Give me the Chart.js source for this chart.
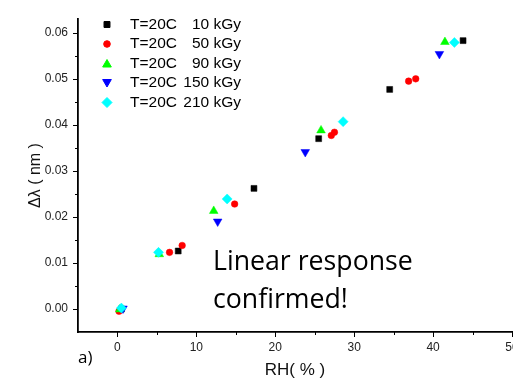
<!DOCTYPE html>
<html>
<head>
<meta charset="utf-8">
<script src="https://cdn.jsdelivr.net/npm/chart.js@4/dist/chart.umd.min.js"></script>
<style>
html, body { margin: 0; padding: 0; background: #fff; overflow: hidden; }
#wrap { position: relative; width: 530px; height: 383px; }
</style>
</head>
<body>
<div id="wrap"><canvas id="rhChart" width="530" height="383"></canvas></div>
<script>
// RH (%) vs wavelength shift (nm), one series per dose
const rh10 = [0.5, 7.7, 17.3, 25.5, 34.5, 43.8];
const dl10 = [0.0000, 0.0126, 0.0262, 0.0370, 0.0477, 0.0583];
const rh50 = [0.2, 6.6, 8.2, 14.85, 27.1, 27.5, 36.9, 37.8];
const dl50 = [-0.0005, 0.0123, 0.0138, 0.0228, 0.0377, 0.0384, 0.0495, 0.0500];
const rh90 = [0.3, 5.3, 12.2, 25.8, 41.5];
const dl90 = [-0.0001, 0.0119, 0.0213, 0.0388, 0.0580];
const rh150 = [0.7, 12.7, 23.8, 40.8];
const dl150 = [0.0001, 0.0190, 0.0341, 0.0554];
const rh210 = [0.5, 5.2, 13.9, 28.6, 42.7];
const dl210 = [0.0002, 0.0123, 0.0239, 0.0407, 0.0579];

const tempLabel = 'T=20C';
const doseLabels = ['10 kGy', '50 kGy', '90 kGy', '150 kGy', '210 kGy'];
const xMajor = [0, 10, 20, 30, 40, 50];
const xMinor = [5, 15, 25, 35, 45];
const yMajor = [0, 0.01, 0.02, 0.03, 0.04, 0.05, 0.06];
const yMinor = [0.005, 0.015, 0.025, 0.035, 0.045, 0.055];

const styles = [
    { color: '#000000', pointStyle: 'rect', radius: 4.2, rotation: 0 },
    { color: '#ff0000', pointStyle: 'circle', radius: 3.3, rotation: 0 },
    { color: '#00ff00', pointStyle: 'triangle', radius: 5, rotation: 0 },
    { color: '#0000ff', pointStyle: 'triangle', radius: 5, rotation: 180 },
    { color: '#00ffff', pointStyle: 'rectRot', radius: 5, rotation: 0 }
];

const xs = [rh10, rh50, rh90, rh150, rh210];
const ys = [dl10, dl50, dl90, dl150, dl210];

const datasets = doseLabels.map(function (dose, i) {
    return {
        label: tempLabel + ' ' + dose,
        data: xs[i].map(function (x, j) { return { x: x, y: ys[i][j] }; }),
        backgroundColor: styles[i].color,
        borderColor: styles[i].color,
        borderWidth: 0.5,
        pointStyle: styles[i].pointStyle,
        pointRadius: styles[i].radius,
        pointRotation: styles[i].rotation,
        order: 5 - i
    };
});

const fontFamily = '"Liberation Sans", Arial, sans-serif';

// tick marks pointing outwards, major and minor
const tickMarks = {
    id: 'tickMarks',
    afterDraw(chart) {
        const c = chart.ctx;
        const xs = chart.scales.x, ys = chart.scales.y;
        const area = chart.chartArea;
        c.save();
        c.strokeStyle = '#000';
        c.lineWidth = 1;
        xMajor.concat(xMinor).forEach(function (v) {
            const len = xMajor.indexOf(v) >= 0 ? 5 : 3;
            const px = Math.round(xs.getPixelForValue(v)) + 0.5;
            c.beginPath(); c.moveTo(px, area.bottom); c.lineTo(px, area.bottom + len); c.stroke();
        });
        yMajor.concat(yMinor).forEach(function (v) {
            const len = yMajor.indexOf(v) >= 0 ? 5 : 3;
            const py = Math.round(ys.getPixelForValue(v)) + 0.5;
            c.beginPath(); c.moveTo(area.left, py); c.lineTo(area.left - len, py); c.stroke();
        });
        c.restore();
    }
};

// legend inside the plot, top left
const insideLegend = {
    id: 'insideLegend',
    afterDraw(chart) {
        const c = chart.ctx;
        c.save();
        c.font = '15.5px ' + fontFamily;
        c.textBaseline = 'middle';
        doseLabels.forEach(function (dose, i) {
            const y = 24.5 + i * 19.5;
            const st = styles[i];
            c.fillStyle = st.color;
            c.strokeStyle = st.color;
            Chart.helpers.drawPoint(c, {
                pointStyle: st.pointStyle,
                radius: st.radius,
                rotation: st.rotation,
                borderWidth: 0.5
            }, 107, st.pointStyle === 'triangle' ? y + (st.rotation ? -1 : 1) : y);
            c.fillStyle = '#000';
            c.textAlign = 'left';
            c.fillText(tempLabel, 130, y);
            c.textAlign = 'right';
            c.fillText(dose, 241, y);
        });
        c.restore();
    }
};

// annotation text
const notes = {
    id: 'notes',
    afterDraw(chart) {
        const c = chart.ctx;
        c.save();
        c.fillStyle = '#000';
        c.textAlign = 'left';
        c.textBaseline = 'alphabetic';
        c.font = '28px "Open Sans", sans-serif';
        const w = c.measureText('Linear response').width;
        const size = 28 * 200 / w;
        c.font = size.toFixed(1) + 'px "Open Sans", sans-serif';
        c.fillText('Linear response', 213, 270);
        c.fillText('confirmed!', 213, 307.5);
        c.font = '17px "Open Sans", sans-serif';
        c.fillText('a)', 78, 363);
        c.restore();
    }
};

const ctx = document.getElementById('rhChart').getContext('2d');
const rhChart = new Chart(ctx, {
    type: 'scatter',
    data: { datasets: datasets },
    options: {
        responsive: false,
        animation: false,
        layout: { padding: { top: 19, right: 18, left: 0, bottom: 0 } },
        plugins: {
            legend: { display: false },
            tooltip: { enabled: false }
        },
        scales: {
            x: {
                type: 'linear',
                min: -5,
                max: 50,
                afterBuildTicks: function (s) { s.ticks = xMajor.map(function (v) { return { value: v }; }); },
                afterFit: function (s) { s.height = 51; },
                grid: { display: false, drawTicks: false },
                border: { color: '#000', width: 1.8 },
                ticks: { padding: 8, color: '#222', font: { family: fontFamily, size: 12 }, maxRotation: 0 },
                title: {
                    display: true,
                    text: 'RH( % )',
                    color: '#111',
                    font: { family: fontFamily, size: 17 },
                    padding: { top: 0, bottom: 2 }
                }
            },
            y: {
                type: 'linear',
                min: -0.005,
                max: 0.063,
                afterBuildTicks: function (s) { s.ticks = yMajor.map(function (v) { return { value: v }; }); },
                afterFit: function (s) { s.width = 78; },
                grid: { display: false, drawTicks: false },
                border: { color: '#000', width: 1.8 },
                ticks: {
                    padding: 10,
                    color: '#222',
                    font: { family: fontFamily, size: 12 },
                    callback: function (v) { return Number(v).toFixed(2); }
                },
                title: {
                    display: true,
                    text: 'Δλ ( nm )',
                    color: '#111',
                    font: { family: fontFamily, size: 16 },
                    padding: { top: 26, bottom: 0 }
                }
            }
        }
    },
    plugins: [tickMarks, insideLegend, notes]
});
</script>
</body>
</html>
